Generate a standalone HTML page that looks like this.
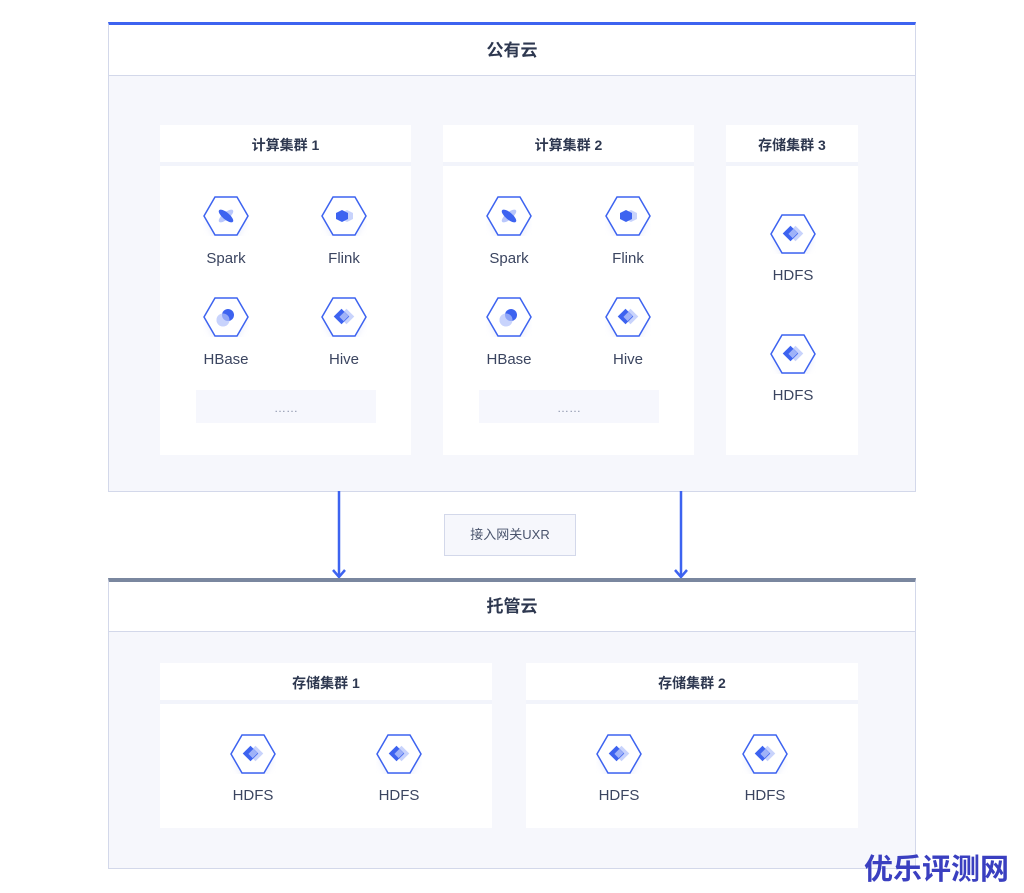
<!DOCTYPE html>
<html><head><meta charset="utf-8"><style>
body{margin:0;width:1024px;height:893px;background:#fff;position:relative;overflow:hidden;font-family:"Liberation Sans","Noto Sans CJK SC",sans-serif;color:#3b4560}
.a{position:absolute;box-sizing:border-box}
.cloud{border:1px solid #d3d8ea;background:#f6f7fc}
.chead{background:#fff;border-bottom:1px solid #d3d8ea;text-align:center;font-weight:bold;font-size:17px;color:#2e3850}
.card{background:#fff}
.ch{background:#fff;text-align:center;font-weight:bold;font-size:14px;color:#2e3850;line-height:41px}
.lbl{font-size:15px;text-align:center;width:100px;color:#3b4560}
svg.i{position:absolute;width:46px;height:40px;overflow:visible}
</style></head><body>
<svg width="0" height="0" style="position:absolute">
<defs>
<filter id="sh" x="-50%" y="-50%" width="200%" height="200%"><feGaussianBlur stdDeviation="4"/></filter>
<symbol id="hx" viewBox="0 0 46 40" overflow="visible">
<polygon points="4,26 14,9 32,9 42,26 32,44 14,44" fill="#dfe4fb" filter="url(#sh)" opacity=".8"/>
<polygon points="1,20 12,1 34,1 45,20 34,39 12,39" fill="#fff" stroke="#3d63f0" stroke-width="1.5"/>
</symbol>
<symbol id="sp" viewBox="0 0 46 40"><use href="#hx"/><ellipse cx="23" cy="20" rx="9" ry="3.5" fill="#b9c7fb" transform="rotate(-40 23 20)"/><ellipse cx="23" cy="20" rx="9" ry="3.5" fill="#3d63f0" transform="rotate(40 23 20)"/></symbol>
<symbol id="fl" viewBox="0 0 46 40"><use href="#hx"/><polygon points="22,14 28,17 28,23 22,26 16,23 16,17" fill="#c8d3fc" transform="translate(4 0)"/><polygon points="22,14 28,17 28,23 22,26 16,23 16,17" fill="#3d63f0" transform="translate(-1 0)"/></symbol>
<symbol id="hb" viewBox="0 0 46 40"><use href="#hx"/><circle cx="20" cy="23" r="6.5" fill="#c8d3fc"/><circle cx="25" cy="18" r="6" fill="#3d63f0"/><circle cx="20" cy="23" r="6.5" fill="#c8d3fc" opacity=".6"/></symbol>
<symbol id="hv" viewBox="0 0 46 40"><use href="#hx"/><rect x="20" y="14" width="11" height="11" fill="#c8d3fc" transform="rotate(45 25.5 19.5)"/><rect x="15" y="14" width="11" height="11" fill="#3d63f0" transform="rotate(45 20.5 19.5)"/><rect x="20" y="16" width="6" height="7" fill="#9fb2f8" transform="rotate(45 23 19.5)"/></symbol>
</defs></svg>

<!-- public cloud -->
<div class="a cloud" style="left:108px;top:22px;width:808px;height:470px;border-top:3px solid #3d63f0"></div>
<div class="a chead" style="left:109px;top:25px;width:806px;height:51px;line-height:51px">公有云</div>

<div class="a card" style="left:160px;top:125px;width:251px;height:330px"></div>
<div class="a ch" style="left:160px;top:125px;width:251px;height:41px;border-bottom:4px solid #f2f4fb">计算集群 1</div>
<div class="a card" style="left:443px;top:125px;width:251px;height:330px"></div>
<div class="a ch" style="left:443px;top:125px;width:251px;height:41px;border-bottom:4px solid #f2f4fb">计算集群 2</div>
<div class="a card" style="left:726px;top:125px;width:132px;height:330px"></div>
<div class="a ch" style="left:726px;top:125px;width:132px;height:41px;border-bottom:4px solid #f2f4fb">存储集群 3</div>

<svg class="i" style="left:203px;top:196px"><use href="#sp"/></svg><div class="a lbl" style="left:176px;top:250px">Spark</div>
<svg class="i" style="left:321px;top:196px"><use href="#fl"/></svg><div class="a lbl" style="left:294px;top:250px">Flink</div>
<svg class="i" style="left:203px;top:297px"><use href="#hb"/></svg><div class="a lbl" style="left:176px;top:351px">HBase</div>
<svg class="i" style="left:321px;top:297px"><use href="#hv"/></svg><div class="a lbl" style="left:294px;top:351px">Hive</div>
<div class="a" style="left:196px;top:390px;width:180px;height:33px;background:#f6f7fd;text-align:center;color:#8a93aa;font-size:12px;line-height:36px">……</div>

<svg class="i" style="left:486px;top:196px"><use href="#sp"/></svg><div class="a lbl" style="left:459px;top:250px">Spark</div>
<svg class="i" style="left:605px;top:196px"><use href="#fl"/></svg><div class="a lbl" style="left:578px;top:250px">Flink</div>
<svg class="i" style="left:486px;top:297px"><use href="#hb"/></svg><div class="a lbl" style="left:459px;top:351px">HBase</div>
<svg class="i" style="left:605px;top:297px"><use href="#hv"/></svg><div class="a lbl" style="left:578px;top:351px">Hive</div>
<div class="a" style="left:479px;top:390px;width:180px;height:33px;background:#f6f7fd;text-align:center;color:#8a93aa;font-size:12px;line-height:36px">……</div>

<svg class="i" style="left:770px;top:214px"><use href="#hv"/></svg><div class="a lbl" style="left:743px;top:267px">HDFS</div>
<svg class="i" style="left:770px;top:334px"><use href="#hv"/></svg><div class="a lbl" style="left:743px;top:387px">HDFS</div>

<!-- arrows -->
<svg class="a" style="left:0;top:0" width="1024" height="893">
<line x1="339" y1="491" x2="339" y2="577" stroke="#3d63f0" stroke-width="2.5"/>
<polyline points="333,570 339,577 345,570" fill="none" stroke="#3d63f0" stroke-width="2.5"/>
<line x1="681" y1="491" x2="681" y2="577" stroke="#3d63f0" stroke-width="2.5"/>
<polyline points="675,570 681,577 687,570" fill="none" stroke="#3d63f0" stroke-width="2.5"/>
</svg>
<div class="a" style="left:444px;top:514px;width:132px;height:42px;border:1px solid #d3d8ea;background:#f6f7fc;text-align:center;line-height:40px;font-size:13px;color:#4a546d">接入网关UXR</div>

<!-- managed cloud -->
<div class="a cloud" style="left:108px;top:578px;width:808px;height:291px;border-top:4px solid #7a879f"></div>
<div class="a chead" style="left:109px;top:582px;width:806px;height:50px;line-height:50px">托管云</div>

<div class="a card" style="left:160px;top:663px;width:332px;height:165px"></div>
<div class="a ch" style="left:160px;top:663px;width:332px;height:41px;border-bottom:4px solid #f2f4fb">存储集群 1</div>
<div class="a card" style="left:526px;top:663px;width:332px;height:165px"></div>
<div class="a ch" style="left:526px;top:663px;width:332px;height:41px;border-bottom:4px solid #f2f4fb">存储集群 2</div>

<svg class="i" style="left:230px;top:734px"><use href="#hv"/></svg><div class="a lbl" style="left:203px;top:787px">HDFS</div>
<svg class="i" style="left:376px;top:734px"><use href="#hv"/></svg><div class="a lbl" style="left:349px;top:787px">HDFS</div>
<svg class="i" style="left:596px;top:734px"><use href="#hv"/></svg><div class="a lbl" style="left:569px;top:787px">HDFS</div>
<svg class="i" style="left:742px;top:734px"><use href="#hv"/></svg><div class="a lbl" style="left:715px;top:787px">HDFS</div>

<div class="a" style="left:864px;top:846px;font-size:29px;font-weight:bold;color:#3a3fc0;letter-spacing:0px;white-space:nowrap">优乐评测网</div>
</body></html>
